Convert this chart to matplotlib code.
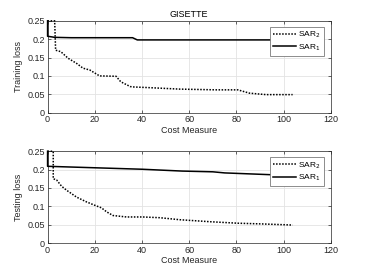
import matplotlib
matplotlib.use("Agg")
import matplotlib.pyplot as plt

# --- data ---
train_sar1_x = [0, 0, 3, 10, 36, 38, 60, 80, 104]
train_sar1_y = [0.25, 0.208, 0.205, 0.204, 0.204, 0.198, 0.198, 0.198, 0.198]
train_sar2_x = [0, 3, 3.4, 5.6, 8.7, 12.3, 15, 17.9, 22, 29, 31, 35, 36, 43, 56,
                71.6, 80.6, 85.5, 92.5, 103.8]
train_sar2_y = [0.25, 0.25, 0.170, 0.166, 0.148, 0.134, 0.121, 0.116, 0.100, 0.099, 0.084,
                0.071, 0.070, 0.068, 0.064, 0.062, 0.062, 0.053, 0.049, 0.049]

test_sar1_x = [0, 0, 20, 40, 57, 70, 75, 95, 104]
test_sar1_y = [0.25, 0.209, 0.205, 0.201, 0.196, 0.194, 0.191, 0.186, 0.184]
test_sar2_x = [0, 2.4, 2.4, 3.8, 5.9, 8, 12.3, 16.5, 20.7, 22.8, 25, 27.7, 33.4, 40.4,
               47.5, 56, 69, 80.6, 91, 103.8]
test_sar2_y = [0.25, 0.25, 0.175, 0.172, 0.155, 0.144, 0.125, 0.112, 0.101, 0.096, 0.085,
               0.075, 0.071, 0.071, 0.069, 0.0635, 0.058, 0.054, 0.052, 0.049]

x_ticks = [0, 20, 40, 60, 80, 100, 120]
y_ticks = [0, 0.05, 0.1, 0.15, 0.2, 0.25]
y_ticklabels = ["0", "0.05", "0.1", "0.15", "0.2", "0.25"]

plt.rcParams['font.family'] = ['Liberation Sans', 'DejaVu Sans']
plt.rcParams['font.size'] = 6.5

axis_col = '#262626'
fig = plt.figure(figsize=(3.66, 2.74), dpi=100)
ax1 = fig.add_axes([0.13, 0.589, 0.774, 0.335])
ax2 = fig.add_axes([0.13, 0.113, 0.774, 0.335])


def style(ax, ylabel):
    ax.set_xlim(0, 120)
    ax.set_ylim(0, 0.25)
    ax.set_xticks(x_ticks)
    ax.set_yticks(y_ticks)
    ax.set_yticklabels(y_ticklabels)
    ax.grid(True, color='#e3e3e3', linewidth=0.6)
    ax.set_axisbelow(True)
    ax.tick_params(direction='in', length=2.5, width=0.5, colors=axis_col,
                   labelsize=6.5, top=True, right=True, pad=2)
    for s in ax.spines.values():
        s.set_color(axis_col)
        s.set_linewidth(0.5)
    ax.set_xlabel("Cost Measure", fontsize=6.5, color=axis_col, labelpad=1)
    ax.set_ylabel(ylabel, fontsize=6.5, color=axis_col, labelpad=3)


for ax, ylabel, s2x, s2y, s1x, s1y in [
        (ax1, "Training loss", train_sar2_x, train_sar2_y, train_sar1_x, train_sar1_y),
        (ax2, "Testing loss", test_sar2_x, test_sar2_y, test_sar1_x, test_sar1_y)]:
    ax.plot(s2x, s2y, color='black', linestyle=(0, (1, 1)), linewidth=1.1,
            label='SAR$_2$', zorder=3, clip_on=False)
    ax.plot(s1x, s1y, color='black', linestyle='-', linewidth=1.1, label='SAR$_1$',
            zorder=3, clip_on=False)
    style(ax, ylabel)
    leg = ax.legend(loc='upper right', bbox_to_anchor=(0.975, 0.935), fontsize=6,
                    fancybox=False, framealpha=1, edgecolor='#7a7a7a',
                    handlelength=2.8, handletextpad=0.3, borderpad=0.35,
                    labelspacing=0.25, borderaxespad=0)
    leg.get_frame().set_linewidth(0.6)
    leg.set_zorder(5)

ax1.set_title("GISETTE", fontsize=6.5, color='black', pad=3)

fig.savefig("out.png", dpi=100)
